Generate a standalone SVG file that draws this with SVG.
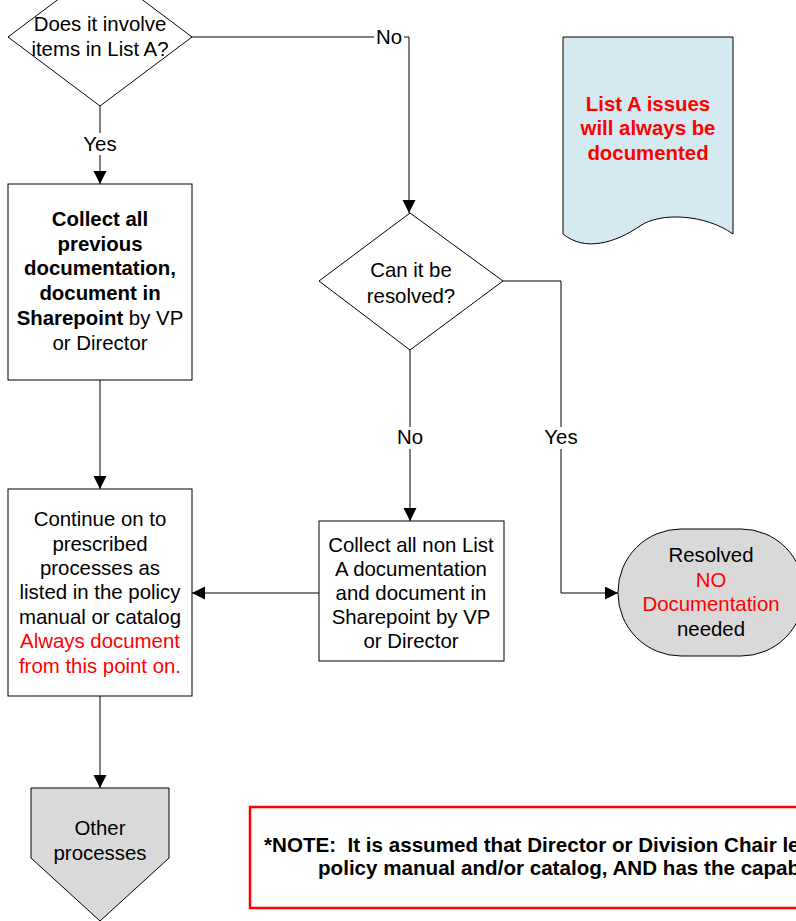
<svg xmlns="http://www.w3.org/2000/svg" width="796" height="921" viewBox="0 0 796 921">
<defs>
<marker id="arr" markerWidth="14" markerHeight="14" refX="13" refY="6.5" orient="auto" markerUnits="userSpaceOnUse">
<path d="M0,0 L13,6.5 L0,13 Z" fill="#000"/>
</marker>
<style>
text{font-family:"Liberation Sans",Arial,sans-serif;font-size:20.4px;fill:#000;text-anchor:middle}
.b{font-weight:bold}
.r{fill:#ff0000}
.shape{stroke:#000;stroke-width:1}
.conn{fill:none;stroke:#000;stroke-width:1}
.lbl{fill:#fff}
.nt{font-weight:bold;text-anchor:start;white-space:pre;font-size:20.6px}
</style>
</defs>
<rect width="796" height="921" fill="#fff"/>
<g id="connectors">
<path class="conn" d="M192,37 H409 V213" marker-end="url(#arr)"/>
<path class="conn" d="M100,106 V184" marker-end="url(#arr)"/>
<path class="conn" d="M100,380 V489" marker-end="url(#arr)"/>
<path class="conn" d="M100,696 V788" marker-end="url(#arr)"/>
<path class="conn" d="M410,350 V521" marker-end="url(#arr)"/>
<path class="conn" d="M503,281 H561 V593 H618" marker-end="url(#arr)"/>
<path class="conn" d="M319,593 H192" marker-end="url(#arr)"/>
<rect class="lbl" x="374" y="27" width="30" height="20"/>
<text x="389" y="44">No</text>
<rect class="lbl" x="82" y="133" width="36" height="22"/>
<text x="100" y="151">Yes</text>
<rect class="lbl" x="395" y="427" width="30" height="22"/>
<text x="410" y="444">No</text>
<rect class="lbl" x="543" y="427" width="36" height="22"/>
<text x="561" y="444">Yes</text>
</g>
<g id="q1">
<polygon class="shape" fill="#fff" points="100,-32 192,37 100,106 8,37"/>
<text x="100" y="31">Does it involve</text>
<text x="100" y="56">items in List A?</text>
</g>
<g id="note-doc">
<path class="shape" fill="#d4eaf0" d="M563,37 H733 V234 C705,214 660,212 640,226 C615,243 585,252 563,234 Z"/>
<text class="b r" x="648" y="111">List A issues</text>
<text class="b r" x="648" y="135">will always be</text>
<text class="b r" x="648" y="160">documented</text>
</g>
<g id="collect-a">
<rect class="shape" fill="#fff" x="8" y="184" width="184" height="196"/>
<text class="b" x="100" y="226">Collect all</text>
<text class="b" x="100" y="251">previous</text>
<text class="b" x="100" y="275">documentation,</text>
<text class="b" x="100" y="300">document in</text>
<text x="100" y="325"><tspan class="b">Sharepoint</tspan> by VP</text>
<text x="100" y="350">or Director</text>
</g>
<g id="q2">
<polygon class="shape" fill="#fff" points="410,213 503,281 410,350 319,281"/>
<text x="411" y="277">Can it be</text>
<text x="411" y="303">resolved?</text>
</g>
<g id="continue">
<rect class="shape" fill="#fff" x="8" y="489" width="184" height="207"/>
<text x="100" y="526">Continue on to</text>
<text x="100" y="551">prescribed</text>
<text x="100" y="575">processes as</text>
<text x="100" y="599">listed in the policy</text>
<text x="100" y="624">manual or catalog</text>
<text class="r" x="100" y="648">Always document</text>
<text class="r" x="100" y="673">from this point on.</text>
</g>
<g id="collect-non-a">
<rect class="shape" fill="#fff" x="319" y="521" width="185" height="140"/>
<text x="411" y="552">Collect all non List</text>
<text x="411" y="576">A documentation</text>
<text x="411" y="600">and document in</text>
<text x="411" y="624">Sharepoint by VP</text>
<text x="411" y="648">or Director</text>
</g>
<g id="resolved">
<rect class="shape" fill="#d9d9d9" x="618" y="529" width="186" height="127" rx="63" ry="63"/>
<text x="711" y="562">Resolved</text>
<text class="r" x="711" y="587">NO</text>
<text class="r" x="711" y="611">Documentation</text>
<text x="711" y="636">needed</text>
</g>
<g id="other">
<polygon class="shape" fill="#d9d9d9" points="31,788 169,788 169,858 100,921 31,858"/>
<text x="100" y="835">Other</text>
<text x="100" y="860">processes</text>
</g>
<g id="note">
<rect x="250" y="807" width="560" height="101" fill="#fff" stroke="#ff0000" stroke-width="2.5"/>
<text class="nt" x="264" y="852" xml:space="preserve">*NOTE:  It is assumed that Director or Division Chair le</text>
<text class="nt" x="318" y="875">policy manual and/or catalog, AND has the capab</text>
</g>
</svg>
